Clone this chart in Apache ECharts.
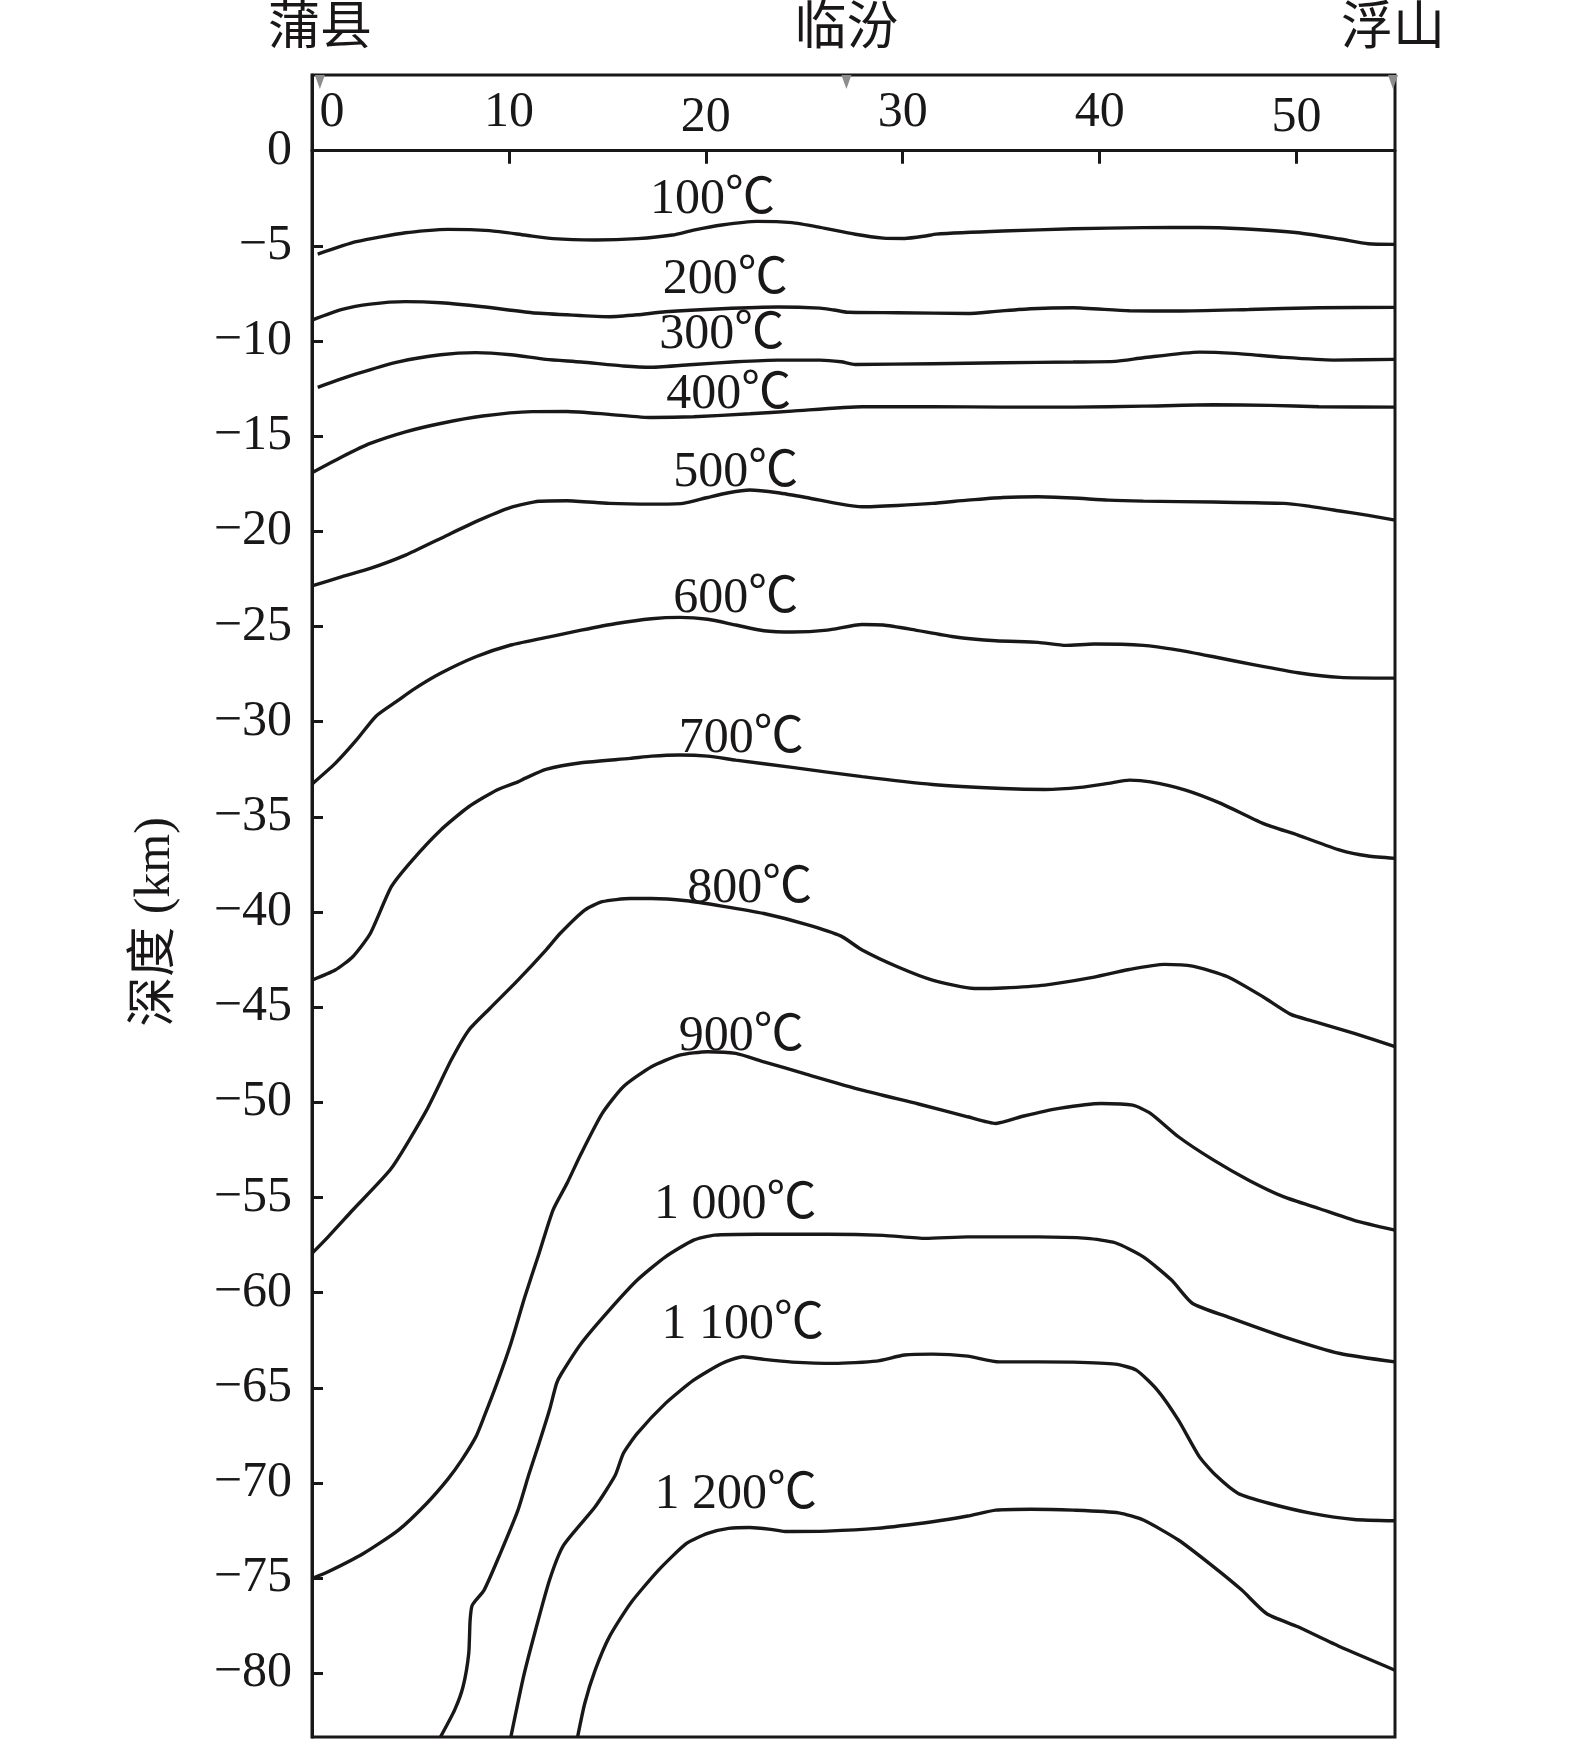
<!DOCTYPE html>
<html>
<head>
<meta charset="utf-8">
<script src="https://cdn.jsdelivr.net/npm/echarts@6/dist/echarts.min.js"></script>
<style>
html,body{margin:0;padding:0;background:#fff;}
#chart{width:1575px;height:1742px;}
</style>
</head>
<body>
<div id="chart"></div>
<script>
// ---- data (distance km, depth km) ----
const iso100 = [[0.29,-5.43],[2.25,-4.78],[4.75,-4.31],[6.89,-4.13],[9.03,-4.20],[10.81,-4.43],[12.24,-4.62],[14.38,-4.69],[16.52,-4.62],[18.31,-4.43],[19.38,-4.17],[20.81,-3.90],[22.59,-3.71],[24.38,-3.78],[25.8,-4.03],[27.59,-4.39],[29.01,-4.59],[30.09,-4.61],[31.16,-4.48],[31.69,-4.38],[35.08,-4.22],[38.65,-4.10],[42.22,-4.04],[45.07,-4.03],[47.22,-4.10],[50.07,-4.31],[52.21,-4.64],[53.64,-4.89],[55,-4.92]];
const iso200 = [[0,-8.90],[1.53,-8.34],[2.96,-8.06],[4.75,-7.93],[6.53,-7.99],[8.67,-8.20],[11.17,-8.51],[12.95,-8.62],[15.1,-8.72],[16.52,-8.62],[17.95,-8.46],[20.81,-8.30],[23.66,-8.21],[25.8,-8.27],[26.52,-8.37],[27.23,-8.49],[29.73,-8.51],[33.3,-8.55],[34.73,-8.44],[36.51,-8.30],[38.65,-8.25],[41.51,-8.41],[44.0,-8.42],[47.57,-8.34],[51.14,-8.25],[55,-8.23]];
const iso300 = [[0.29,-12.43],[2.25,-11.73],[4.39,-11.09],[6.53,-10.72],[8.32,-10.61],[10.1,-10.72],[11.88,-10.96],[13.67,-11.10],[15.81,-11.31],[17.24,-11.38],[19.38,-11.23],[21.52,-11.09],[23.66,-11.0],[25.8,-11.0],[26.87,-11.09],[27.59,-11.23],[31.51,-11.19],[35.08,-11.14],[38.65,-11.10],[40.79,-11.07],[42.22,-10.88],[45.07,-10.58],[46.86,-10.65],[49.36,-10.86],[51.86,-11.0],[55,-10.96]];
const iso400 = [[0,-16.92],[1.53,-16.08],[2.96,-15.38],[4.75,-14.77],[6.53,-14.33],[8.67,-13.94],[11.17,-13.71],[12.95,-13.70],[15.1,-13.85],[17.24,-14.02],[19.38,-13.98],[22.23,-13.82],[24.38,-13.68],[27.94,-13.45],[31.51,-13.45],[35.08,-13.47],[38.65,-13.47],[42.22,-13.42],[45.79,-13.35],[48.64,-13.38],[51.14,-13.45],[55,-13.47]];
const iso500 = [[0,-22.87],[1.53,-22.38],[2.96,-21.95],[4.75,-21.25],[6.53,-20.37],[8.32,-19.49],[10.1,-18.74],[11.53,-18.42],[12.95,-18.39],[15.1,-18.53],[17.24,-18.57],[18.84,-18.53],[20.09,-18.22],[21.16,-17.97],[22.23,-17.83],[23.66,-17.97],[25.09,-18.22],[26.87,-18.57],[27.94,-18.71],[29.73,-18.64],[31.51,-18.53],[33.3,-18.36],[35.08,-18.22],[36.87,-18.18],[38.65,-18.25],[40.44,-18.36],[42.22,-18.41],[45.79,-18.46],[49.36,-18.53],[50.43,-18.65],[52.21,-18.93],[53.64,-19.16],[55,-19.41]];
const iso600 = [[0,-33.28],[1.18,-32.19],[2.25,-30.97],[3.25,-29.71],[4.39,-28.87],[5.1,-28.34],[6.53,-27.46],[8.32,-26.59],[10.1,-25.97],[12.24,-25.50],[13.67,-25.19],[15.45,-24.84],[17.24,-24.59],[18.67,-24.52],[20.09,-24.62],[21.52,-24.92],[22.95,-25.22],[24.38,-25.29],[26.16,-25.19],[27.94,-24.89],[29.01,-24.92],[30.44,-25.15],[32.58,-25.54],[34.73,-25.75],[36.87,-25.83],[38.29,-25.99],[39.72,-25.92],[42.22,-25.99],[44.0,-26.24],[45.79,-26.59],[47.93,-27.03],[50.07,-27.43],[52.21,-27.67],[55,-27.71]];
const iso700 = [[0,-43.58],[1.18,-43.05],[2.07,-42.35],[2.96,-41.13],[4.03,-38.67],[5.1,-37.27],[6.53,-35.70],[7.96,-34.47],[9.39,-33.59],[10.46,-33.16],[10.81,-32.98],[11.88,-32.51],[13.67,-32.16],[16.17,-31.93],[17.24,-31.81],[18.67,-31.75],[20.09,-31.81],[21.52,-32.02],[24.38,-32.40],[27.94,-32.89],[31.51,-33.30],[35.08,-33.51],[37.22,-33.56],[39.01,-33.45],[40.44,-33.24],[41.51,-33.07],[42.58,-33.16],[44.36,-33.59],[46.15,-34.29],[48.29,-35.34],[50.07,-35.96],[52.21,-36.75],[53.64,-37.06],[55,-37.18]];
const iso800 = [[0,-57.94],[0.82,-57.07],[2.07,-55.66],[4.03,-53.47],[5.82,-50.41],[7.07,-47.78],[7.96,-46.21],[9.03,-45.07],[10.46,-43.58],[11.88,-42.0],[12.6,-41.13],[13.85,-39.90],[14.74,-39.46],[16.17,-39.29],[17.24,-39.29],[19.02,-39.41],[20.81,-39.69],[22.95,-40.08],[25.09,-40.65],[26.87,-41.27],[27.94,-42.0],[29.73,-42.88],[31.51,-43.58],[33.65,-44.02],[35.08,-43.99],[37.22,-43.84],[39.36,-43.49],[41.51,-43.02],[43.29,-42.75],[44.72,-42.84],[46.5,-43.40],[48.29,-44.45],[49.71,-45.38],[50.78,-45.72],[52.93,-46.38],[55,-47.08]];
const iso900 = [[0,-75.02],[0.82,-74.67],[2.61,-73.71],[4.39,-72.48],[5.82,-71.08],[6.9,-69.8],[7.6,-68.8],[8.32,-67.58],[8.74,-66.52],[9.39,-64.77],[10.1,-62.67],[10.81,-60.22],[11.53,-57.94],[12.24,-55.66],[12.95,-54.26],[13.67,-52.69],[14.74,-50.58],[15.81,-49.18],[17.24,-48.13],[18.67,-47.52],[20.09,-47.34],[21.52,-47.43],[22.95,-47.87],[25.09,-48.52],[27.94,-49.36],[30.8,-50.09],[33.3,-50.76],[34.73,-51.11],[36.15,-50.72],[37.94,-50.32],[40.08,-50.06],[41.68,-50.15],[42.58,-50.58],[44.0,-51.81],[45.79,-53.04],[47.57,-54.09],[49.36,-54.97],[51.14,-55.58],[52.93,-56.2],[55,-56.72]];
const iso1000 = [[6.53,-83.34],[7.24,-81.94],[7.67,-80.71],[7.96,-78.96],[8.03,-77.21],[8.14,-76.42],[8.74,-75.63],[9.56,-73.71],[10.46,-71.43],[11.0,-69.6],[11.53,-67.92],[12.06,-66.17],[12.42,-64.77],[12.67,-64.25],[13.67,-62.67],[15.1,-60.92],[16.52,-59.34],[17.95,-58.12],[19.38,-57.24],[20.45,-56.98],[22.59,-56.93],[26.16,-56.93],[29.01,-56.99],[31.16,-57.15],[33.3,-57.07],[36.87,-57.07],[39.36,-57.15],[40.79,-57.38],[42.22,-58.12],[43.65,-59.34],[44.72,-60.57],[46.5,-61.27],[49.36,-62.32],[52.21,-63.2],[55,-63.64]];
const iso1100 = [[10.1,-83.34],[10.74,-80.19],[11.35,-77.74],[12.06,-75.11],[12.78,-73.27],[14.38,-71.25],[15.4,-69.6],[15.81,-68.45],[16.52,-67.40],[17.95,-65.82],[19.38,-64.6],[20.81,-63.72],[21.88,-63.37],[22.95,-63.51],[24.38,-63.65],[26.52,-63.72],[28.66,-63.6],[30.09,-63.28],[31.51,-63.23],[33.3,-63.34],[34.9,-63.64],[36.87,-63.64],[38.65,-63.65],[40.79,-63.76],[41.86,-64.07],[42.93,-65.12],[44.0,-66.7],[45.07,-68.63],[45.9,-69.6],[47.04,-70.55],[48.64,-71.08],[50.78,-71.6],[52.93,-71.92],[55,-71.99]];
const iso1200 = [[13.49,-83.34],[13.85,-81.59],[14.38,-79.84],[15.1,-78.09],[16.17,-76.33],[17.6,-74.58],[19.02,-73.18],[20.09,-72.65],[21.16,-72.39],[22.23,-72.34],[23.3,-72.44],[24.02,-72.55],[26.16,-72.53],[28.66,-72.39],[31.51,-72.04],[33.3,-71.74],[34.73,-71.43],[36.51,-71.38],[38.65,-71.43],[40.97,-71.57],[42.22,-71.95],[44.0,-73.0],[45.79,-74.41],[47.22,-75.63],[48.47,-76.86],[50.07,-77.56],[52.21,-78.61],[55,-79.84]];

const isotherms = [iso100, iso200, iso300, iso400, iso500, iso600, iso700, iso800, iso900, iso1000, iso1100, iso1200];
const tempLabels = ['100℃','200℃','300℃','400℃','500℃','600℃','700℃','800℃','900℃','1 000℃','1 100℃','1 200℃'];
const labelKm    = [20.34, 20.99, 20.81, 21.16, 21.52, 21.52, 21.8, 22.23, 21.8, 21.5, 21.88, 21.52];
const labelDepth = [-2.59, -6.76, -9.68, -12.84, -16.95, -23.57, -30.88, -38.76, -46.56, -55.4, -61.71, -70.64];

const stationNames = ['蒲县', '临汾', '浮山'];
const stationKm = [0.4, 27.14, 54.9];

const xTicks = [0, 10, 20, 30, 40, 50];
const yTicks = [0, -5, -10, -15, -20, -25, -30, -35, -40, -45, -50, -55, -60, -65, -70, -75, -80];

const X_MIN = 0, X_MAX = 55, Y_MIN = -83.35, Y_MAX = 3.98;

// ---- chart ----
const INK = '#1a1718';
const SERIF = '"Liberation Serif", "Times New Roman", "Noto Sans CJK SC", serif';
const chart = echarts.init(document.getElementById('chart'), null, {renderer: 'canvas'});

const GRID_TOP = 75, GRID_BOTTOM = 5, H = 1742;
// pixel distance from grid top to the depth-0 line, via the axis range
const zeroOffset = (Y_MAX - 0) / (Y_MAX - Y_MIN) * (H - GRID_TOP - GRID_BOTTOM);

const series = isotherms.map((d, i) => ({
  name: tempLabels[i],
  type: 'line',
  data: d,
  showSymbol: false,
  symbol: 'none',
  smooth: 0.2,
  lineStyle: {color: INK, width: 3.4},
  z: 3,
  silent: true
}));

series.push({
  type: 'scatter',
  data: labelKm.map((x, i) => [x, labelDepth[i]]),
  symbolSize: 1,
  itemStyle: {color: 'rgba(0,0,0,0)', opacity: 1},
  label: {
    show: true,
    position: 'inside',
    formatter: p => tempLabels[p.dataIndex],
    color: INK,
    opacity: 1,
    textBorderWidth: 0,
    fontFamily: SERIF,
    fontSize: 50
  },
  z: 5,
  silent: true
});

series.push({
  type: 'scatter',
  data: stationKm.map(x => [x, Y_MAX - 0.37]),
  symbol: 'triangle',
  symbolRotate: 180,
  symbolSize: [10, 14],
  itemStyle: {color: '#8c8c8c', opacity: 1},
  label: {
    show: true,
    position: 'top',
    distance: 19,
    formatter: p => stationNames[p.dataIndex],
    color: INK,
    opacity: 1,
    textBorderWidth: 0,
    fontFamily: SERIF,
    fontSize: 52
  },
  clip: false,
  z: 6,
  silent: true
});

const labelTxt = {fontFamily: SERIF, fontSize: 50, color: INK};

chart.setOption({
  animation: false,
  backgroundColor: '#fff',
  grid: {
    left: 312, right: 180, top: GRID_TOP, bottom: GRID_BOTTOM,
    show: true, borderColor: INK, borderWidth: 3, backgroundColor: 'transparent'
  },
  xAxis: [{
    type: 'value',
    min: X_MIN, max: X_MAX,
    position: 'bottom',
    axisLine: {show: true, onZero: true, lineStyle: {color: INK, width: 3}},
    axisTick: {show: true, inside: false, length: 13, lineStyle: {color: INK, width: 3}, customValues: xTicks.slice(1)},
    axisLabel: {show: false},
    splitLine: {show: false}
  }, {
    type: 'value',
    min: X_MIN, max: X_MAX,
    position: 'top',
    offset: -zeroOffset,
    axisLine: {show: false, onZero: false},
    axisTick: {show: false},
    axisLabel: {
      show: true, margin: 8,
      customValues: xTicks,
      formatter: v => (v === 0 ? '{first|0}' : (v === 20 || v === 50) ? '{lo|' + v + '}' : '{hi|' + v + '}'),
      rich: {
        first: Object.assign({padding: [0, 0, 5, 40]}, labelTxt),
        hi: Object.assign({padding: [0, 0, 5, 0]}, labelTxt),
        lo: Object.assign({padding: [0, 0, 0, 0]}, labelTxt)
      },
      color: INK, fontFamily: SERIF, fontSize: 50
    },
    splitLine: {show: false}
  }],
  yAxis: {
    type: 'value',
    min: Y_MIN, max: Y_MAX,
    name: '深度 (km)',
    nameLocation: 'middle',
    nameRotate: 90,
    nameGap: 131,
    nameTextStyle: {color: INK, fontFamily: SERIF, fontSize: 50, padding: [0, 32, 0, 0]},
    axisLine: {show: true, onZero: false, lineStyle: {color: INK, width: 3}},
    axisTick: {show: true, inside: true, length: 11, lineStyle: {color: INK, width: 3}, customValues: yTicks},
    axisLabel: {
      show: true, margin: 20,
      customValues: yTicks,
      formatter: v => (v < 0 ? '\u2212' + Math.abs(v) : String(v)),
      color: INK, fontFamily: SERIF, fontSize: 50
    },
    splitLine: {show: false}
  },
  series: series
});
</script>
</body>
</html>
